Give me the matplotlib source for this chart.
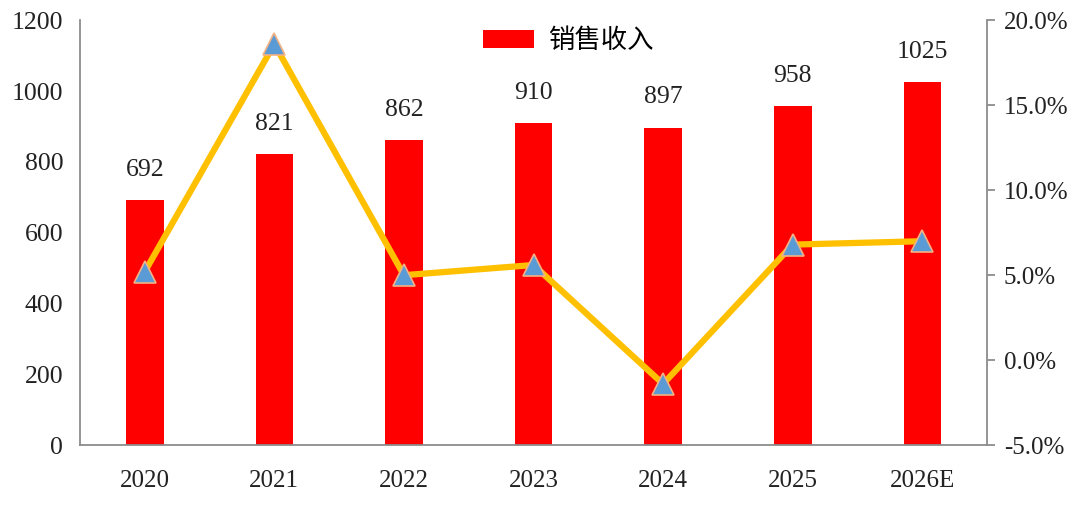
import matplotlib
matplotlib.use('Agg')
import matplotlib.pyplot as plt
import numpy as np

plt.rcParams['font.family'] = ['Liberation Serif', 'Noto Sans CJK SC']

years = ['2020', '2021', '2022', '2023', '2024', '2025', '2026E']
sales = [692, 821, 862, 910, 897, 958, 1025]
growth = [5.2, 18.6, 5.0, 5.6, -1.4, 6.8, 7.0]  # %

fig = plt.figure(figsize=(10.8, 5.07), dpi=100)
ax = fig.add_axes([0.074, 0.122, 0.840, 0.838])
x = np.arange(len(years))

ax.bar(x, sales, width=0.29, color='#FF0000', label='销售收入', zorder=2)
for xi, v in zip(x, sales):
    ax.text(xi, v + 85, str(v), ha='center', va='center', fontsize=18.5, color='#222222')

ax.set_xlim(-0.5, len(years) - 0.5)
ax.set_ylim(0, 1200)
ax.set_yticks(range(0, 1201, 200))
ax.set_xticks(x)
ax.set_xticklabels(years)
ax.tick_params(axis='y', length=0, labelsize=18.5, pad=12, colors='#222222')
ax.tick_params(axis='x', length=0, labelsize=18, pad=18, colors='#222222')
for s in ['top', 'right']:
    ax.spines[s].set_visible(False)
for s in ['left', 'bottom']:
    ax.spines[s].set_color('#8c8c8c')
    ax.spines[s].set_linewidth(1.3)

ax2 = ax.twinx()
ax2.plot(x, growth, color='#FFC000', linewidth=4.5, marker='^', markersize=16,
         markerfacecolor='#5B9BD5', markeredgecolor='#F4B183', markeredgewidth=1.2, zorder=3)
ax2.set_ylim(-5, 20)
ax2.set_yticks(np.arange(-5, 20.1, 5))
ax2.set_yticklabels(['%.1f%%' % t for t in np.arange(-5, 20.1, 5)])
ax2.tick_params(axis='y', length=6, width=1.3, color='#8c8c8c', labelsize=18, pad=6,
                labelcolor='#222222')
for s in ['top', 'left', 'bottom']:
    ax2.spines[s].set_visible(False)
ax2.spines['right'].set_color('#8c8c8c')
ax2.spines['right'].set_linewidth(1.3)

fig.legend(loc='upper center', bbox_to_anchor=(0.526, 0.99), frameon=False,
           fontsize=19, handlelength=1.95, handleheight=0.7, handletextpad=0.5)

plt.savefig('out.png', dpi=100)
